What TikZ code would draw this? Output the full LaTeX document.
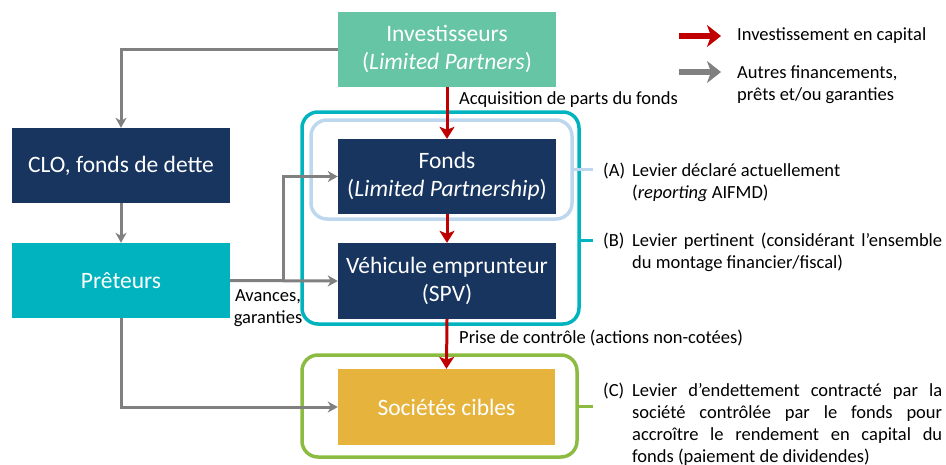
\documentclass[tikz,border=0pt]{standalone}
\usepackage{fontspec}
\setmainfont{Carlito}
\usetikzlibrary{arrows.meta}
\definecolor{LboNavy}{HTML}{17355F}
\definecolor{LboMint}{HTML}{66C5A5}
\definecolor{LboTeal}{HTML}{00B3BE}
\definecolor{LboGold}{HTML}{E6B33C}
\definecolor{LboGreen}{HTML}{8CBB41}
\definecolor{LboSky}{HTML}{BDD7EE}
\definecolor{LboRed}{HTML}{C00000}
\definecolor{LboGray}{HTML}{808080}
\newcommand{\levier}[2]{\makebox[29pt][l]{#1}\parbox[t]{310pt}{\hyphenpenalty=10000\exhyphenpenalty=10000 #2}}

\begin{document}
\begin{tikzpicture}[x=1pt,y=-1pt,
    entity/.style={minimum width=218pt,minimum height=75pt,inner sep=0pt,text=white,
      align=center,font=\fontsize{23.5}{28}\selectfont},
    zone/.style={draw=#1,line width=3.5pt,rounded corners=16pt,inner sep=0pt},
    capital/.style={draw=LboRed,line width=3pt,-{Stealth[length=12pt,width=15pt,inset=3pt]}},
    credit/.style={draw=LboGray,line width=3pt,-{Stealth[length=10pt,width=11pt,inset=3pt]}},
    sample/.style={draw=#1,line width=5.5pt,-{Stealth[length=14pt,width=22pt,inset=4pt]}},
    stub/.style={draw=#1,line width=3pt},
    note/.style={font=\fontsize{18.5}{22}\selectfont,inner sep=0pt}]
  \useasboundingbox (0,0) rectangle (946,464);

  % perimeters (A), (B), (C)
  \node[zone=LboTeal,minimum width=277pt,minimum height=212pt] (levB) at (440.5,218) {};
  \node[zone=LboSky,minimum width=261pt,minimum height=99pt] (levA) at (441.5,169.5) {};
  \node[zone=LboGreen,minimum width=275pt,minimum height=102pt] (levC) at (439.5,406) {};

  % entities
  \node[entity,fill=LboMint] (inv) at (447,49.5) {Investisseurs\\(\textit{Limited Partners})};
  \node[entity,fill=LboNavy] (fonds) at (447,176.5) {Fonds\\(\textit{Limited Partnership})};
  \node[entity,fill=LboNavy,minimum height=76pt] (spv) at (447,281) {Véhicule emprunteur\\(SPV)};
  \node[entity,fill=LboNavy] (clo) at (121,165.5) {CLO, fonds de dette};
  \node[entity,fill=LboTeal] (pret) at (121,280.5) {Prêteurs};
  \node[entity,fill=LboGold,minimum width=217pt,minimum height=76pt] (cibles) at (446.5,407) {Sociétés cibles};

  % equity chain
  \draw[capital] (inv.south) -- (fonds.north);
  \draw[capital] (fonds.south) -- (spv.north);
  \draw[capital] (spv.south) -- (cibles.north);
  \node[note,anchor=west] (acq) at (459,100) {Acquisition de parts du fonds};
  \node[note,anchor=west] (prise) at (459,338) {Prise de contrôle (actions non-cotées)};

  % debt and guarantees
  \coordinate (split) at (283,280.5);
  \draw[credit] (inv.west) -| (clo.north);
  \draw[credit] (clo.south) -- (pret.north);
  \draw[credit] (pret.east) -- (spv.west);
  \draw[credit] (split) |- (fonds.west);
  \draw[credit] (pret.south) |- (cibles.west);
  \node[note,align=center] (avances) at (268,308.5) {Avances,\\garanties};

  % legend
  \coordinate (capA) at (679,36);
  \coordinate (capB) at (721,36);
  \coordinate (crdA) at (679,72);
  \coordinate (crdB) at (721,72);
  \draw[sample=LboRed] (capA) -- (capB);
  \draw[sample=LboGray] (crdA) -- (crdB);
  \node[note,anchor=west] (capT) at (737,36) {Investissement en capital};
  \node[note,anchor=west,align=left] (crdT) at (737,84.5) {Autres financements,\\prêts et/ou garanties};

  % leverage definitions
  \coordinate (tagA) at (593,169.5);
  \coordinate (tagB) at (593,240);
  \coordinate (tagC) at (593,406);
  \draw[stub=LboSky] (levA.east) -- (tagA);
  \draw[stub=LboTeal] (levB.east |- tagB) -- (tagB);
  \draw[stub=LboGreen] (levC.east) -- (tagC);
  \node[note,anchor=base west] (txtA) at (603,176.5)
    {\levier{(A)}{Levier déclaré actuellement\\(\textit{reporting} AIFMD)}};
  \node[note,anchor=base west] (txtB) at (603,246)
    {\levier{(B)}{Levier pertinent (considérant l’ensemble du montage financier/fiscal)}};
  \node[note,anchor=base west] (txtC) at (603,396)
    {\levier{(C)}{Levier d’endettement contracté par la société contrôlée par le fonds pour accroître le rendement en capital du fonds (paiement de dividendes)}};
\end{tikzpicture}
\end{document}
